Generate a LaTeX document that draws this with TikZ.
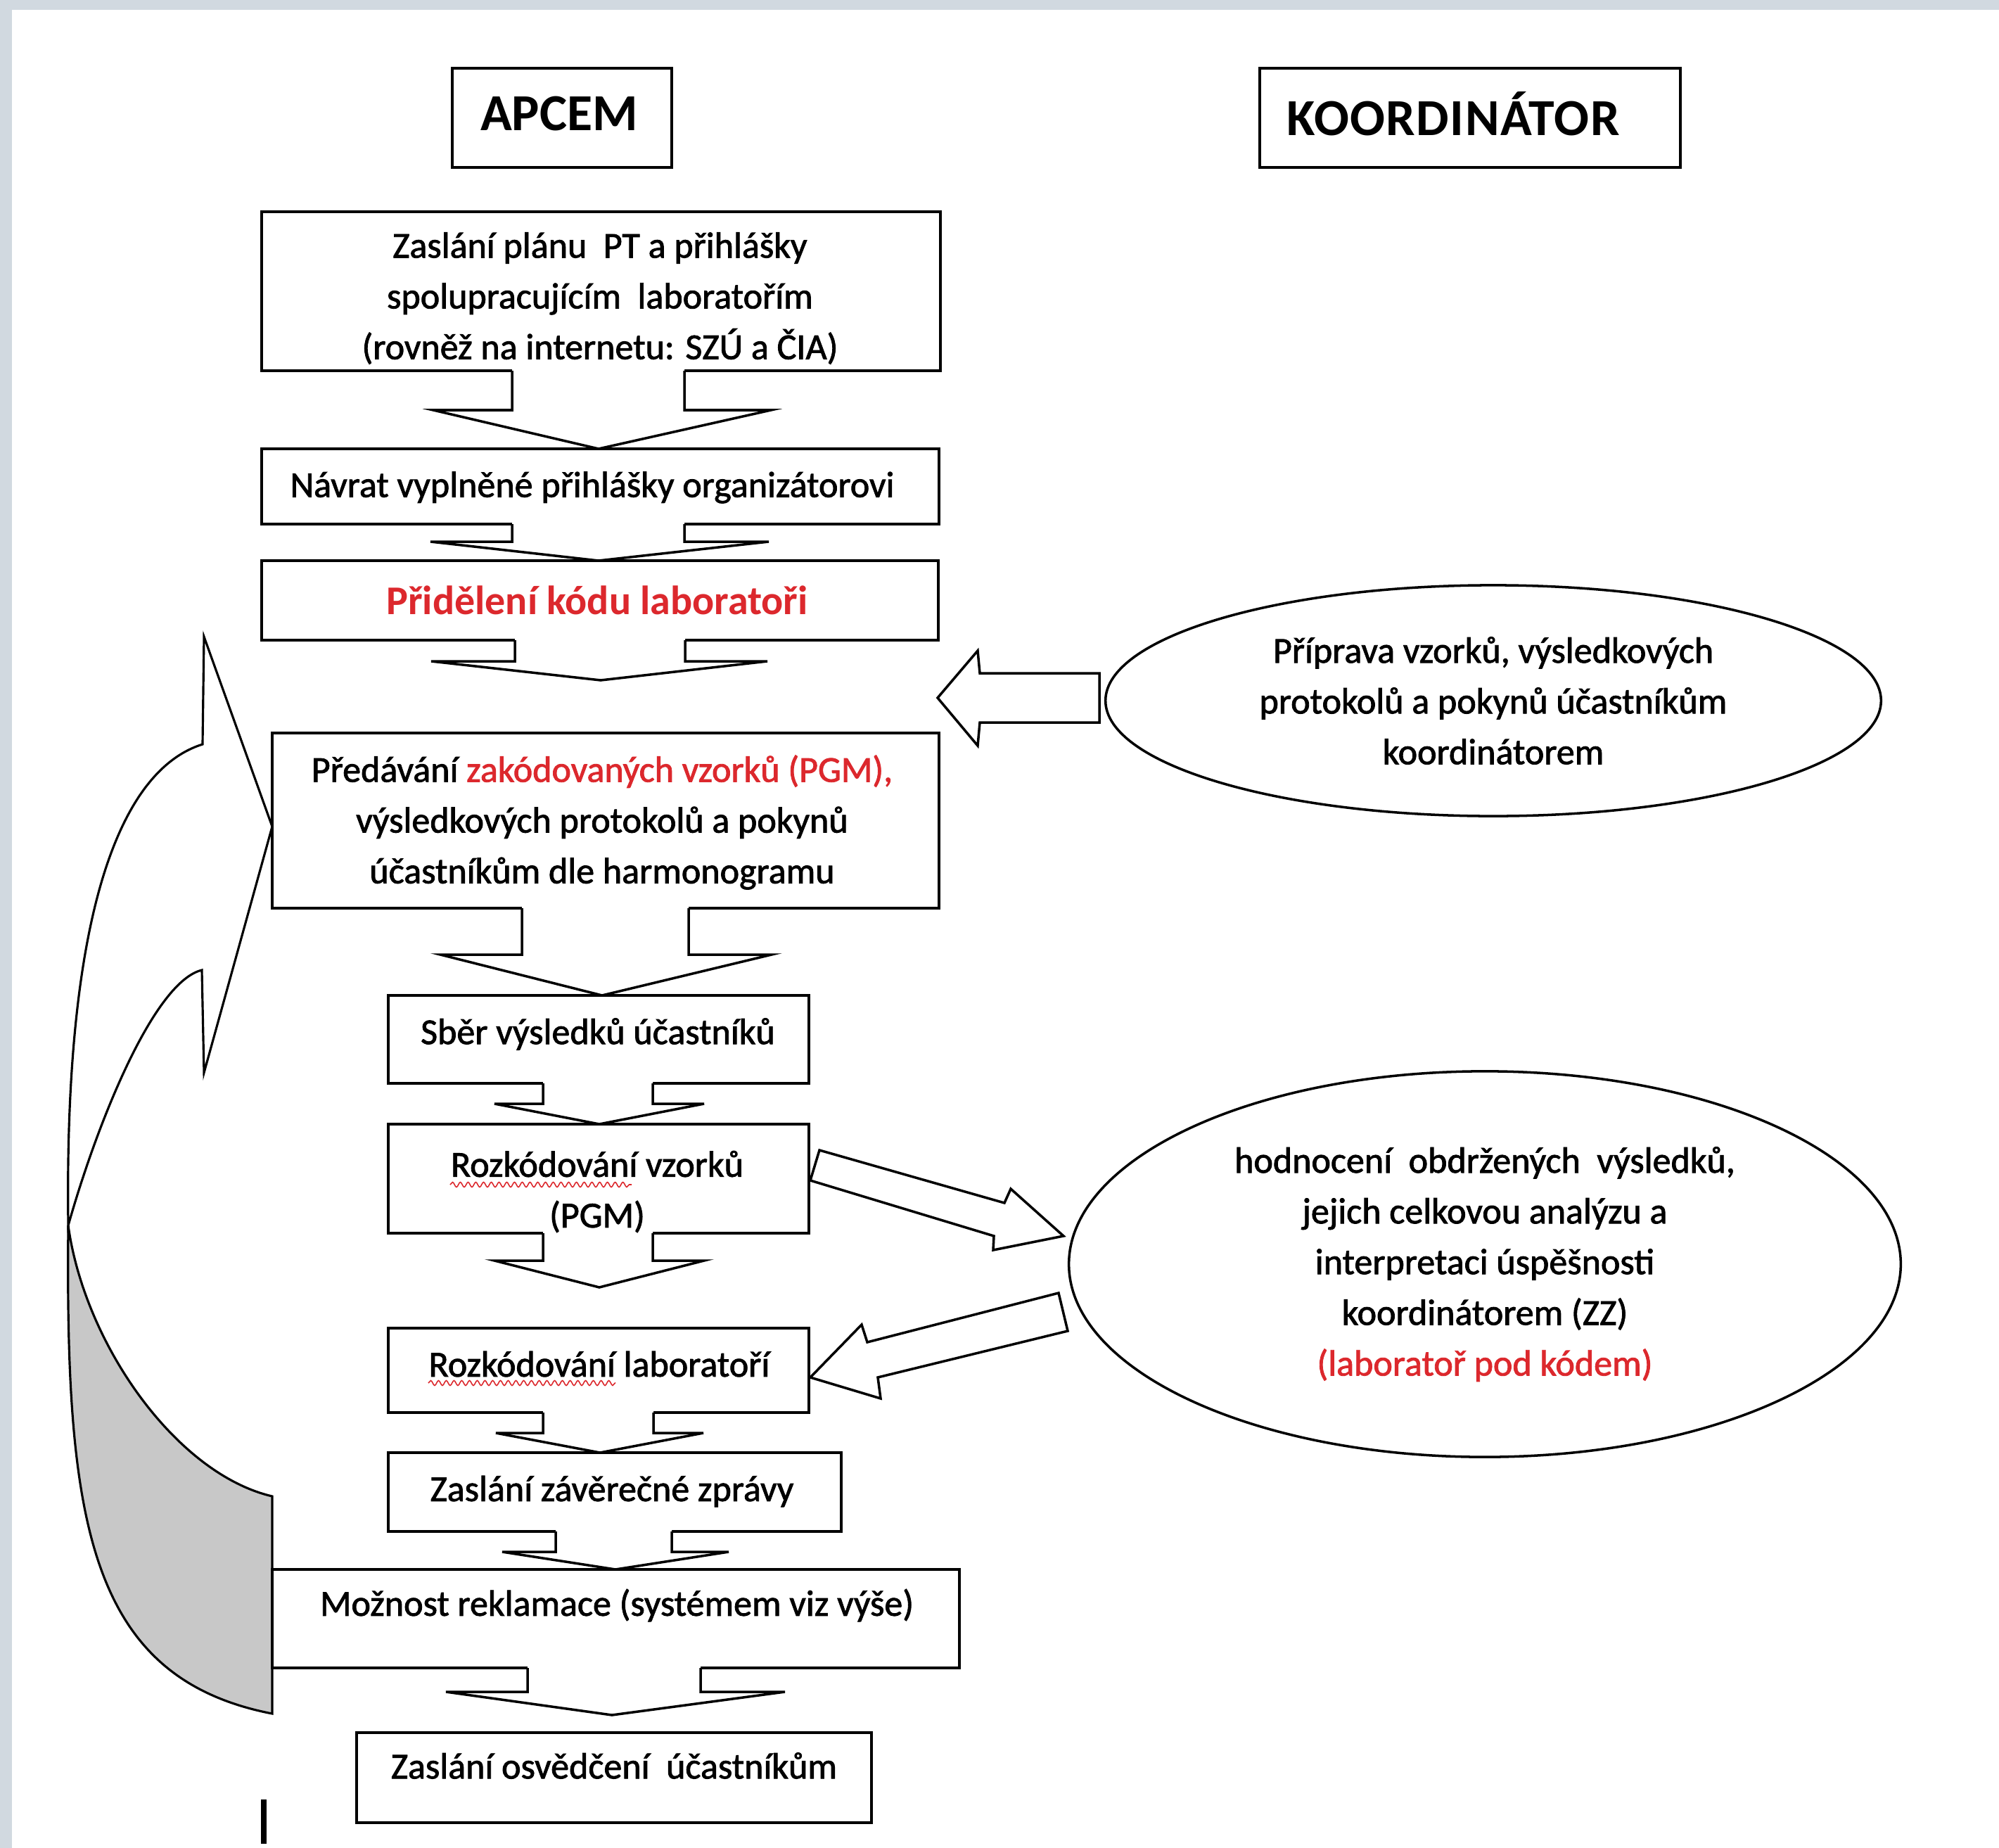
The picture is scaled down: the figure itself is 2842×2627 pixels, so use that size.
\documentclass[tikz,border=0pt]{standalone}
\usepackage{fontspec}
\setmainfont{Carlito}
\newfontfamily\bodyfont{Carlito}[FakeBold=1.6]
\usetikzlibrary{shapes.geometric,fit,decorations.pathmorphing}
\definecolor{stripcol}{RGB}{209,217,224}
\definecolor{redtxt}{RGB}{220,40,45}
\definecolor{bandgray}{RGB}{200,200,200}
\tikzset{
  boxnode/.style={draw, line width=1.1pt, inner sep=0pt, fill=white},
  headbox/.style={draw, line width=1.3pt, inner sep=0pt, fill=white},
  txt/.style={font=\bodyfont\fontsize{14.8}{20.5}\selectfont, align=center, inner sep=0pt},
  headtxt/.style={font=\bfseries\fontsize{21}{24}\selectfont, inner sep=0pt},
  ellnode/.style={ellipse, draw, line width=1pt, fill=white, inner sep=0pt, font=\bodyfont\fontsize{14.8}{20.5}\selectfont, align=center},
  blkline/.style={draw, line width=1pt, line join=miter},
  squig/.style={redtxt, line width=0.45pt, decorate, decoration={snake, amplitude=0.35mm, segment length=1.1mm}}
}
\newcommand\blkdown[8]{%
  \fill[white] (#1,#3-3) -- (#1,#4) -- (#5,#4) -- (#7,#8) -- (#6,#4) -- (#2,#4) -- (#2,#3-3) -- cycle;
  \draw[blkline] (#1,#3) -- (#1,#4) -- (#5,#4) -- (#7,#8) -- (#6,#4) -- (#2,#4) -- (#2,#3);
}
\begin{document}
\begin{tikzpicture}[x=0.01cm, y=-0.01cm]
\useasboundingbox (0,0) rectangle (2842,2627);
% background
\fill[white] (0,0) rectangle (2842,2627);
\fill[stripcol] (0,0) rectangle (2842,14);
\fill[stripcol] (0,0) rectangle (17,2627);

% curved return arrow (left)
\path[fill=bandgray, draw=black, line width=0.9pt, line join=miter]
  (97,1742) .. controls (120,1910) and (250,2095) .. (387,2127) -- (387,2436)
  .. controls (125,2385) and (93,2160) .. (97,1742) -- cycle;
\path[fill=white, draw=black, line width=0.9pt, line join=miter]
  (288,1058) -- (290,905) -- (387,1175) -- (290,1525) -- (287,1379)
  .. controls (220,1395) and (140,1590) .. (97,1742)
  .. controls (91,1300) and (170,1095) .. (288,1058) -- cycle;

% header boxes
\node[headbox, fit={(643,97) (955,238)}] (hA) {};
\node[headbox, fit={(1791,97) (2389,238)}] (hK) {};
\node[headtxt] (thA) at (795,162) {APCEM};
\node[headtxt] (thK) at (2066,162) {\addfontfeature{LetterSpace=2}KOORDINÁTOR};

% process boxes
\node[boxnode, fit={(372,301) (1337,527)}] (b1) {};
\node[boxnode, fit={(372,638) (1335,745)}] (b2) {};
\node[boxnode, fit={(372,797) (1334,910)}] (b3) {};
\node[boxnode, fit={(387,1042) (1335,1291)}] (b4) {};
\node[boxnode, fit={(552,1415) (1150,1540)}] (b5) {};
\node[boxnode, fit={(552,1598) (1150,1753)}] (b6) {};
\node[boxnode, fit={(552,1888) (1150,2008)}] (b7) {};
\node[boxnode, fit={(552,2065) (1196,2177)}] (b8) {};
\node[boxnode, fit={(387,2231) (1364,2371)}] (b9) {};
\node[boxnode, fit={(507,2463) (1239,2591)}] (b10) {};

% block arrows between boxes
\blkdown{728}{973}{527}{583}{616}{1096}{851}{638}
\blkdown{728}{973}{745}{770}{612}{1093}{851}{797}
\blkdown{732}{974}{910}{940}{613}{1091}{854}{967}
\blkdown{742}{979}{1291}{1357}{626}{1097}{856}{1415}
\blkdown{772}{928}{1540}{1569}{703}{1001}{852}{1598}
\blkdown{772}{928}{1753}{1792}{703}{1001}{852}{1830}
\blkdown{772}{929}{2008}{2037}{705}{1000}{853}{2065}
\blkdown{790}{955}{2177}{2206}{714}{1036}{875}{2231}
\blkdown{750}{996}{2371}{2405}{634}{1116}{870}{2438}

% ellipses
\node[ellnode, minimum width=11.02cm, minimum height=3.28cm] (e1) at (2123,996)
  {Příprava vzorků, výsledkových\\protokolů a pokynů účastníkům\\koordinátorem};
\node[ellnode, minimum width=11.82cm, minimum height=5.48cm] (e2) at (2111,1797)
  {hodnocení\ \ obdržených\ \ výsledků,\\jejich celkovou analýzu a\\interpretaci úspěšnosti\\koordinátorem (ZZ)\\\textcolor{redtxt}{(laboratoř pod kódem)}};

% arrows from/to coordinator
\path[fill=white, blkline] (1563,957) -- (1393,957) -- (1390,925) -- (1333,992)
  -- (1390,1060) -- (1393,1027) -- (1563,1027) -- cycle;
\path[fill=white, blkline] (1165,1635) -- (1428,1710) -- (1437,1690) -- (1512,1757)
  -- (1412,1777) -- (1413,1757) -- (1152,1678) -- cycle;
\path[fill=white, blkline] (1505,1838) -- (1233,1908) -- (1225,1883) -- (1152,1958)
  -- (1252,1988) -- (1248,1958) -- (1518,1892) -- cycle;

% texts
\node[txt] (t1) at (853,424) {Zaslání plánu\ \ PT a přihlášky\\spolupracujícím\ \ laboratořím\\(rovněž na internetu: SZÚ a ČIA)};
\node[txt] (t2) at (842,693) {Návrat vyplněné přihlášky organizátorovi};
\node[txt, font=\bfseries\fontsize{16.5}{20.5}\selectfont, text=redtxt] (t3) at (849,853) {Přidělení kódu laboratoři};
\node[txt] (t4) at (856,1169) {Předávání \textcolor{redtxt}{zakódovaných vzorků (PGM),}\\výsledkových protokolů a pokynů\\účastníkům dle harmonogramu};
\node[txt] (t5) at (850,1470) {Sběr výsledků účastníků};
\node[txt] (t6) at (849,1694) {Rozkódování vzorků\\(PGM)};
\node[txt] (t7) at (852,1939) {Rozkódování laboratoří};
\node[txt] (t8) at (870,2120) {Zaslání závěrečné zprávy};
\node[txt] (t9) at (877,2282) {Možnost reklamace (systémem viz výše)};
\node[txt] (t10) at (873,2510) {Zaslání osvědčení\ \ účastníkům};

% spell-check underlines
\draw[squig] (640,1684) -- (898,1684);
\draw[squig] (609,1966) -- (875,1966);

% stray cursor bar
\draw[line width=2pt] (375,2558) -- (375,2621);
\end{tikzpicture}
\end{document}
